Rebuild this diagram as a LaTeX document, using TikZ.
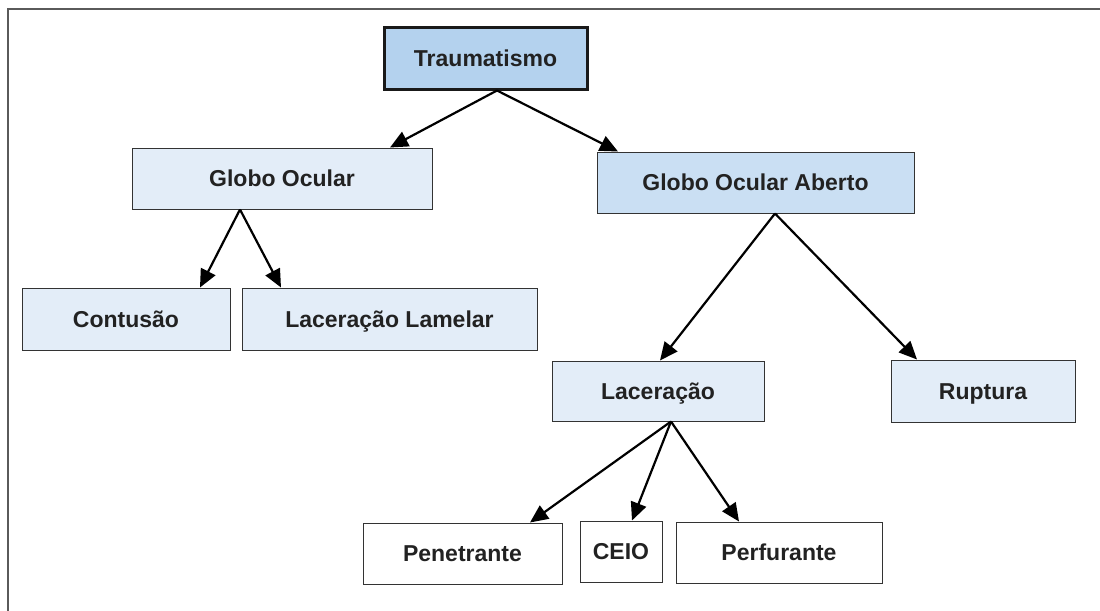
\documentclass[tikz,border=0pt]{standalone}
\usepackage{fontspec}
\setmainfont{Liberation Sans}
\usepackage{tikz}
\usetikzlibrary{arrows.meta}

\definecolor{topblue}{HTML}{B4D2EE}
\definecolor{midblue}{HTML}{CADFF3}
\definecolor{paleblue}{HTML}{E3EDF8}
\definecolor{framegray}{HTML}{5A5A5A}
\definecolor{textgray}{HTML}{222222}

\tikzset{
  box/.style={draw=black!80, line width=0.5pt, inner sep=0pt, align=center,
    text height=8.4pt, text depth=0pt,
    text=textgray, font=\fontsize{11.5}{13}\selectfont\bfseries},
  topbox/.style={box, fill=topblue, line width=1.5pt, draw=black!90},
  darkbox/.style={box, fill=midblue},
  lightbox/.style={box, fill=paleblue},
  whitebox/.style={box, fill=white},
  arr/.style={-{Triangle[length=9pt,width=8pt]}, line width=1.1pt, black}
}

\begin{document}
\begin{tikzpicture}[x=0.5pt, y=-0.5pt]
        \useasboundingbox (0,0) rectangle (1100,611);
        \draw[framegray, line width=0.6pt] (8,611) -- (8,9) -- (1100,9);

        \node[topbox, minimum width=101.5pt, minimum height=31pt] (trauma) at (485.5,58) {Traumatismo};
        \node[lightbox, minimum width=150pt, minimum height=30.5pt] (go) at (282,178.5) {Globo Ocular};
        \node[darkbox, minimum width=158.5pt, minimum height=30.5pt] (goa) at (755.5,182.5) {Globo Ocular Aberto};
        \node[lightbox, minimum width=104pt, minimum height=31pt] (cont) at (126,319) {Contusão};
        \node[lightbox, minimum width=147.5pt, minimum height=31pt] (lamel) at (389.5,319) {Laceração Lamelar};
        \node[lightbox, minimum width=106pt, minimum height=30pt] (lac) at (658,391) {Laceração};
        \node[lightbox, minimum width=92pt, minimum height=31pt] (rupt) at (983,391) {Ruptura};
        \node[whitebox, minimum width=99.5pt, minimum height=30.5pt] (pen) at (462.5,553.5) {Penetrante};
        \node[whitebox, minimum width=41pt, minimum height=30.5pt] (ceio) at (621,551.5) {CEIO};
        \node[whitebox, minimum width=103pt, minimum height=30.5pt] (perf) at (779,552.5) {Perfurante};

        % ramos
        \draw[arr] ([xshift=5.75pt]trauma.south) -- ([xshift=54pt]go.north);
        \draw[arr] ([xshift=5.75pt]trauma.south) -- ([xshift=-68.75pt]goa.north);
        \draw[arr] ([xshift=-21pt]go.south) -- ([xshift=37pt]cont.north);
        \draw[arr] ([xshift=-21pt]go.south) -- ([xshift=-54.25pt]lamel.north);
        \draw[arr] ([xshift=9.75pt]goa.south) -- ([xshift=1pt]lac.north);
        \draw[arr] ([xshift=9.75pt]goa.south) -- ([xshift=-33pt]rupt.north);
        \foreach \n/\s in {pen/33.75, ceio/5.5, perf/-20} {
          \draw[arr] ([xshift=6.5pt]lac.south) -- ([xshift=\s pt]\n.north);
        }
     \end{tikzpicture}
\end{document}
